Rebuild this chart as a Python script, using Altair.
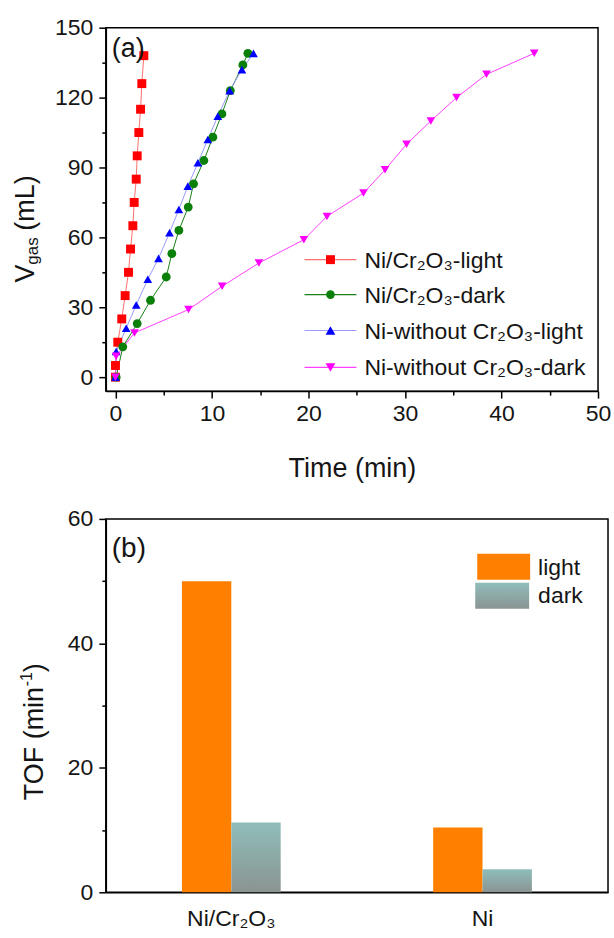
import altair as alt
import pandas as pd

FONT = "Liberation Sans"
TXT = "#151515"

# ---------------- panel (a): gas volume vs time ----------------
series = ["Ni/Cr2O3-light", "Ni/Cr2O3-dark", "Ni-without Cr2O3-light", "Ni-without Cr2O3-dark"]
legend_labels = ["Ni/Cr₂O₃-light", "Ni/Cr₂O₃-dark", "Ni-without Cr₂O₃-light", "Ni-without Cr₂O₃-dark"]

t_nicr_light = [0.0, 0.0, 0.24, 0.65, 1.0, 1.35, 1.56, 1.8, 1.94, 2.15, 2.25, 2.42, 2.6, 2.73, 2.94]
v_nicr_light = [0, 5, 15, 25, 35, 45, 55, 65, 75, 85, 95, 105, 115, 126, 138]

t_nicr_dark = [0.07, 0.76, 2.25, 3.63, 5.26, 5.84, 6.57, 7.54, 8.09, 9.16, 10.09, 11.03, 11.9, 13.2, 13.72]
v_nicr_dark = [0, 13, 23, 33, 43, 53, 63, 73, 83, 93, 103, 113, 123, 134, 139]

t_ni_light = [0.0, 0.07, 1.11, 2.15, 3.35, 4.46, 5.6, 6.57, 7.5, 8.54, 9.57, 10.6, 11.83, 13.1, 14.3]
v_ni_light = [0, 11, 21, 31, 42, 51, 62, 72, 82, 92, 102, 112, 123, 132, 139]

t_ni_dark = [0.0, 0.07, 1.97, 7.57, 11.05, 14.86, 19.52, 21.91, 25.7, 27.93, 30.16, 32.68, 35.34, 38.45, 43.39]
v_ni_dark = [0, 9, 19, 29, 39, 49, 59, 69, 79, 89, 100, 110, 120, 130, 139]

x_major = [0, 10, 20, 30, 40, 50]
x_minor = [5, 15, 25, 35, 45]
y_major = [0, 30, 60, 90, 120, 150]
y_minor = [15, 45, 75, 105, 135]

line_colors = ["#ff7070", "#1a801a", "#9a9aff", "#ff40ff"]
point_colors = ["#ff0000", "#0a800a", "#0000ff", "#ff00ff"]
shapes = ["square", "circle", "triangle-up", "triangle-down"]
sizes = [80, 75, 95, 95]

# ---------------- panel (b): TOF bars ----------------
catalysts = ["Ni/Cr₂O₃", "Ni"]
conditions = ["light", "dark"]
tof_light = [50.0, 10.4]
tof_dark = [11.2, 3.7]
yb_major = [0, 20, 40, 60]
yb_minor = [10, 30, 50]

rows = []
for name, ts, vs in zip(series,
                        [t_nicr_light, t_nicr_dark, t_ni_light, t_ni_dark],
                        [v_nicr_light, v_nicr_dark, v_ni_light, v_ni_dark]):
    for i, (t, v) in enumerate(zip(ts, vs)):
        rows.append({"series": name, "t": t, "v": v, "i": i})
df_a = pd.DataFrame(rows)

rows_b = []
for c, l, d in zip(catalysts, tof_light, tof_dark):
    rows_b.append({"cat": c, "cond": "light", "tof": l})
    rows_b.append({"cat": c, "cond": "dark", "tof": d})
df_b = pd.DataFrame(rows_b)

W1, H1 = 493, 364
W2, H2 = 503, 374

common_axis = dict(grid=False, domainColor="black", domainWidth=1.5, tickColor="black",
                   tickWidth=1.5, labelFont=FONT, labelColor=TXT, labelFontSize=23,
                   labelFlush=False, labelOverlap=False)


def major_axis(values, orient, pad, title=None, **kw):
    return alt.Axis(values=values, orient=orient, tickSize=7, labelPadding=pad, title=title, **common_axis, **kw)


def minor_axis(values, orient):
    return alt.Axis(values=values, orient=orient, tickSize=4, tickWidth=1.5, tickColor="black",
                    labels=False, domain=False, title=None, grid=False)


def text(t, x, y, size, angle=0, align="left", baseline="alphabetic"):
    return alt.Chart(pd.DataFrame({"k": [0]})).mark_text(
        text=t, fontSize=size, font=FONT, color=TXT, angle=angle, align=align, baseline=baseline
    ).encode(x=alt.value(x), y=alt.value(y))


one = pd.DataFrame({"k": [0]})

xs = alt.Scale(domain=[-1, 50], nice=False, zero=False)
ys = alt.Scale(domain=[-6, 150], nice=False, zero=False)

base_a = alt.Chart(df_a)
lines = base_a.mark_line(strokeWidth=1).encode(
    x=alt.X("t:Q", scale=xs, axis=major_axis(x_major, "bottom", 4, title="Time (min)",
                                              titleFont=FONT, titleFontSize=27, titleFontWeight="normal",
                                              titleColor=TXT, titlePadding=31)),
    y=alt.Y("v:Q", scale=ys, axis=major_axis(y_major, "left", 6)),
    stroke=alt.Stroke("series:N", scale=alt.Scale(domain=series, range=line_colors), legend=None),
    order=alt.Order("i:Q"),
)
points = base_a.mark_point(filled=True, opacity=1).encode(
    x=alt.X("t:Q", scale=xs, axis=None),
    y=alt.Y("v:Q", scale=ys, axis=None),
    fill=alt.Fill("series:N", scale=alt.Scale(domain=series, range=point_colors), legend=None),
    shape=alt.Shape("series:N", scale=alt.Scale(domain=series, range=shapes), legend=None),
    size=alt.Size("series:N", scale=alt.Scale(domain=series, range=sizes), legend=None),
)
minor_a = base_a.mark_point(opacity=0).encode(
    x=alt.X("t:Q", scale=xs, axis=minor_axis(x_minor, "bottom")),
    y=alt.Y("v:Q", scale=ys, axis=minor_axis(y_minor, "left")),
)

layers_a = [lines, points, minor_a]
leg_y = [232.3, 267.3, 303.3, 340.3]
for lab, lc, pc, sh, sz, yy in zip(legend_labels, line_colors, point_colors, shapes, sizes, leg_y):
    layers_a.append(alt.Chart(one).mark_rule(color=lc, strokeWidth=1.2).encode(
        x=alt.value(199), x2=alt.value(251), y=alt.value(yy)))
    layers_a.append(alt.Chart(one).mark_point(shape=sh, filled=True, size=sz, color=pc, opacity=1).encode(
        x=alt.value(225), y=alt.value(yy)))
    layers_a.append(text(lab, 259, yy + 8, 23))

layers_a += [
    text("(a)", 6, 29.6, 27),
    text("V", -71.5, 255.3, 27, angle=270),
    text("gas", -68, 237.3, 17, angle=270),
    text("(mL)", -71.5, 203.3, 27, angle=270),
]

chart_a = alt.layer(*layers_a).resolve_axis(x="independent", y="independent").properties(width=W1, height=H1)

# ---------------- panel (b) ----------------
xb_scale = alt.Scale(domain=catalysts, paddingInner=0.607, paddingOuter=0.303)
xo_scale = alt.Scale(domain=conditions, paddingInner=0, paddingOuter=0)
yb_scale = alt.Scale(domain=[0, 60], nice=False, zero=True)

teal = alt.Gradient(gradient="linear",
                    stops=[alt.GradientStop(color="#8fbdba", offset=0),
                           alt.GradientStop(color="#8a9492", offset=1)],
                    x1=0, x2=0, y1=0, y2=1)

base_b = alt.Chart(df_b)
bars_light = base_b.transform_filter(alt.datum.cond == "light").mark_bar(color="#ff8000").encode(
    x=alt.X("cat:N", scale=xb_scale,
            axis=alt.Axis(title=None, ticks=False, labelAngle=0, labelPadding=15, **common_axis)),
    xOffset=alt.XOffset("cond:N", scale=xo_scale),
    y=alt.Y("tof:Q", scale=yb_scale, axis=major_axis(yb_major, "left", 6)),
)
bars_dark = base_b.transform_filter(alt.datum.cond == "dark").mark_bar(color=teal).encode(
    x=alt.X("cat:N", scale=xb_scale, axis=None),
    xOffset=alt.XOffset("cond:N", scale=xo_scale),
    y=alt.Y("tof:Q", scale=yb_scale, axis=None),
)
minor_b = base_b.mark_point(opacity=0).encode(
    y=alt.Y("tof:Q", scale=yb_scale, axis=minor_axis(yb_minor, "left")),
)

layers_b = [
    bars_light, bars_dark, minor_b,
    alt.Chart(one).mark_rect(color="#ff8000").encode(
        x=alt.value(372), x2=alt.value(425), y=alt.value(35), y2=alt.value(61)),
    alt.Chart(one).mark_rect(color=teal).encode(
        x=alt.value(370), x2=alt.value(424), y=alt.value(64), y2=alt.value(90)),
    text(conditions[0], 433, 56, 23),
    text(conditions[1], 433, 84.5, 23),
    text("(b)", 6, 37.7, 28),
    text("TOF (min", -63, 281.7, 27, angle=270),
    text("-1", -74, 167.7, 16, angle=270),
    text(")", -63, 153.7, 27, angle=270),
]

chart_b = alt.layer(*layers_b).resolve_axis(x="independent", y="independent").properties(width=W2, height=H2)

chart = alt.vconcat(chart_a, chart_b, spacing=128, bounds="flush").properties(
    padding={"left": 11, "top": 15, "right": 2, "bottom": 3}
).configure_view(stroke="black", strokeWidth=1.5)

chart.save("out.html", embed_options={"renderer": "svg", "actions": False})
